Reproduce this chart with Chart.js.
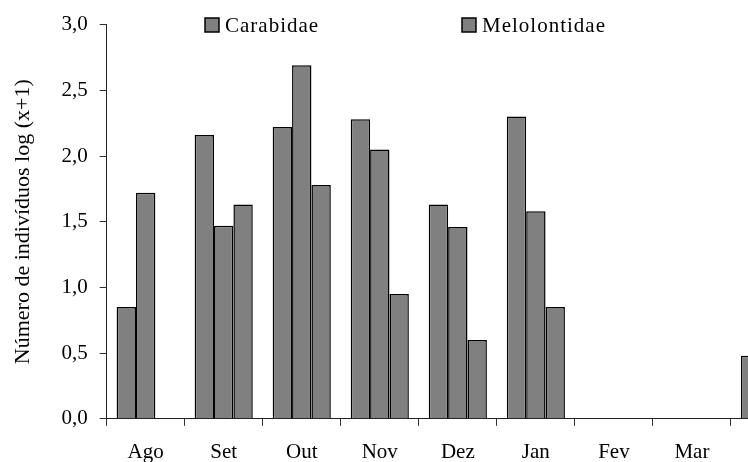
<!DOCTYPE html>
<html lang="pt">
<head>
<meta charset="utf-8">
<title>Número de indivíduos</title>
<script src="https://cdn.jsdelivr.net/npm/chart.js@4"></script>
<style>
  html, body { margin: 0; padding: 0; background: #fff; overflow: hidden; }
  /* the chart is bigger than the window, the last month is cut off like in the original */
  #wrap { width: 815px; height: 479px; position: relative; }
</style>
</head>
<body>
<div id="wrap"><canvas id="barChart"></canvas></div>
<script>
"use strict";

// Meses
const months = ["Ago", "Set", "Out", "Nov", "Dez", "Jan", "Fev", "Mar", "Abr"];

// Valores log (x+1)
const carabidae    = [0.85, 2.16, 2.22, 2.28, 1.63, 2.30, 0, 0, 0.48];
const melolontidae = [1.72, 1.47, 2.69, 2.05, 1.46, 1.58, 0, 0, null];
const serie3       = [0,    1.63, 1.78, 0.95, 0.60, 0.85, 0, 0, null];

const yTicks = [0, 0.5, 1, 1.5, 2, 2.5, 3];

const FONT = "'Liberation Serif', 'Times New Roman', serif";

/* legenda desenhada à mão, dentro da área do gráfico */
const legendPlugin = {
  id: "manualLegend",
  afterDraw(chart, args, opts) {
    const ctx = chart.ctx;
    ctx.save();
    ctx.font = "21px " + FONT;
    ctx.letterSpacing = "1px";
    ctx.textBaseline = "middle";
    opts.items.forEach((item) => {
      const ds = chart.data.datasets[item.index];
      ctx.fillStyle = ds.backgroundColor;
      ctx.fillRect(item.x, item.y - 7, 14, 14);
      ctx.strokeStyle = "#000";
      ctx.lineWidth = 1.5;
      ctx.strokeRect(item.x, item.y - 7, 14, 14);
      ctx.fillStyle = "#000";
      ctx.fillText(ds.label, item.x + 20, item.y + 1);
    });
    ctx.restore();
  },
};

function barSet(label, values) {
  return {
    label: label,
    data: values,
    backgroundColor: "#808080",
    borderColor: "#000",
    borderWidth: 1.5,
    barPercentage: 1,
    categoryPercentage: 0.745,
  };
}

const config = {
  type: "bar",
  data: {
    labels: months,
    datasets: [
      barSet("Carabidae", carabidae),
      barSet("Melolontidae", melolontidae),
      barSet("Série 3", serie3),
    ],
  },
  options: {
    responsive: true,
    maintainAspectRatio: false,
    animation: false,
    layout: { padding: { left: 10, top: 23, right: 6, bottom: 0 } },
    plugins: {
      legend: { display: false },
      tooltip: { enabled: false },
      manualLegend: {
        items: [
          { index: 0, x: 205, y: 25 },
          { index: 1, x: 462, y: 25 },
        ],
      },
    },
    scales: {
      x: {
        grid: {
          display: true,
          drawOnChartArea: false,
          tickLength: 7,
          color: "#333",
          offset: true,
        },
        border: { color: "#222", width: 1 },
        ticks: {
          color: "#000",
          padding: 14,
          font: { family: FONT, size: 21 },
        },
      },
      y: {
        min: 0,
        max: 3,
        afterBuildTicks: (axis) => {
          axis.ticks = yTicks.map((v) => ({ value: v }));
        },
        grid: {
          drawOnChartArea: false,
          tickLength: 7,
          color: "#333",
        },
        border: { color: "#222", width: 1 },
        ticks: {
          color: "#000",
          padding: 12,
          font: { family: FONT, size: 21 },
          callback: (v) => Number(v).toFixed(1).replace(".", ","),
        },
        title: {
          display: true,
          text: "Número de indivíduos log (x+1)",
          color: "#000",
          font: { family: FONT, size: 22 },
          padding: { top: 0, bottom: 13 },
        },
      },
    },
  },
  plugins: [legendPlugin],
};

new Chart(document.getElementById("barChart"), config);
</script>
</body>
</html>
